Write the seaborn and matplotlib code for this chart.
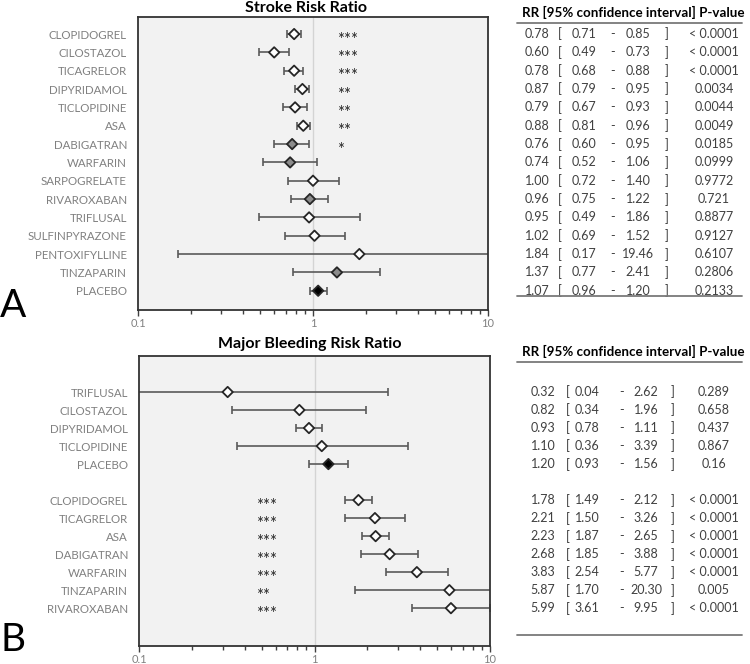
import numpy as np
import pandas as pd
import matplotlib
matplotlib.use("Agg")
import matplotlib.pyplot as plt
import seaborn as sns
from matplotlib.lines import Line2D
from matplotlib.ticker import FixedLocator, LogLocator, NullFormatter
from matplotlib.transforms import blended_transform_factory

# ---------------- data ----------------
drugs_a = ["CLOPIDOGREL", "CILOSTAZOL", "TICAGRELOR", "DIPYRIDAMOL", "TICLOPIDINE", "ASA",
           "DABIGATRAN", "WARFARIN", "SARPOGRELATE", "RIVAROXABAN", "TRIFLUSAL",
           "SULFINPYRAZONE", "PENTOXIFYLLINE", "TINZAPARIN", "PLACEBO"]
rr_a = [0.78, 0.60, 0.78, 0.87, 0.79, 0.88, 0.76, 0.74, 1.00, 0.96, 0.95, 1.02, 1.84, 1.37, 1.07]
lo_a = [0.71, 0.49, 0.68, 0.79, 0.67, 0.81, 0.60, 0.52, 0.72, 0.75, 0.49, 0.69, 0.17, 0.77, 0.96]
hi_a = [0.85, 0.73, 0.88, 0.95, 0.93, 0.96, 0.95, 1.06, 1.40, 1.22, 1.86, 1.52, 19.46, 2.41, 1.20]
p_a = ["< 0.0001", "< 0.0001", "< 0.0001", "0.0034", "0.0044", "0.0049", "0.0185", "0.0999",
       "0.9772", "0.721", "0.8877", "0.9127", "0.6107", "0.2806", "0.2133"]
sig_a = ["***", "***", "***", "**", "**", "**", "*", "", "", "", "", "", "", "", ""]
kind_a = ["antiplatelet"] * 6 + ["anticoagulant", "anticoagulant", "antiplatelet", "anticoagulant",
          "antiplatelet", "antiplatelet", "antiplatelet", "anticoagulant", "placebo"]

drugs_b = ["TRIFLUSAL", "CILOSTAZOL", "DIPYRIDAMOL", "TICLOPIDINE", "PLACEBO",
           "CLOPIDOGREL", "TICAGRELOR", "ASA", "DABIGATRAN", "WARFARIN", "TINZAPARIN", "RIVAROXABAN"]
rr_b = [0.32, 0.82, 0.93, 1.10, 1.20, 1.78, 2.21, 2.23, 2.68, 3.83, 5.87, 5.99]
lo_b = [0.04, 0.34, 0.78, 0.36, 0.93, 1.49, 1.50, 1.87, 1.85, 2.54, 1.70, 3.61]
hi_b = [2.62, 1.96, 1.11, 3.39, 1.56, 2.12, 3.26, 2.65, 3.88, 5.77, 20.30, 9.95]
p_b = ["0.289", "0.658", "0.437", "0.867", "0.16", "< 0.0001", "< 0.0001", "< 0.0001",
       "< 0.0001", "< 0.0001", "0.005", "< 0.0001"]
sig_b = ["", "", "", "", "", "***", "***", "***", "***", "***", "**", "***"]
kind_b = ["antiplatelet"] * 4 + ["placebo"] + ["antiplatelet"] * 7

xticks = [0.1, 1, 10]
xticklabels = ["0.1", "1", "10"]

# ---------------- style ----------------
sns.set_theme(style="white")
plt.rcParams["font.family"] = ["Lato", "DejaVu Sans"]

W, H = 750, 664
fig = plt.figure(figsize=(W / 100, H / 100), dpi=100)

fill_pal = {"antiplatelet": "white", "anticoagulant": "#8c8c8c", "placebo": "black"}
LABEL_C = "#808080"
TABLE_C = "#404040"


def fx(px):
    return px / W


def fy(py):
    return 1 - py / H


def panel(rect, drugs, rr, lo, hi, sig, kind, ypos, ylim, star_x, title, title_xy):
    ax = fig.add_axes(rect)
    ax.set_facecolor("#f2f2f2")
    ax.set_xscale("log")
    ax.set_xlim(0.1, 10)
    ax.set_ylim(*ylim)
    ax.axvline(1, color="#d4d4d4", lw=1, zorder=1)
    rr_ = np.array(rr)
    err = np.vstack([rr_ - np.array(lo), np.array(hi) - rr_])
    ax.errorbar(rr_, ypos, xerr=err, fmt="none", ecolor="#5a5a5a", elinewidth=1.2,
                capsize=2.6, capthick=1.2, zorder=2)
    df = pd.DataFrame({"rr": rr, "y": ypos, "kind": kind})
    sns.scatterplot(data=df, x="rr", y="y", hue="kind", palette=fill_pal, marker="D",
                    s=28, edgecolor="#262626", linewidth=1.3, legend=False, zorder=3, ax=ax)
    for s, y in zip(sig, ypos):
        if s:
            ax.text(star_x, y + 0.3, s, ha="left", va="center", fontsize=12,
                    color="#262626")
    ax.set_yticks(ypos)
    ax.set_yticklabels(drugs, color=LABEL_C, fontsize=8.3)
    ax.tick_params(axis="y", length=0, pad=8)
    ax.xaxis.set_major_locator(FixedLocator(xticks))
    ax.set_xticklabels(xticklabels)
    ax.xaxis.set_minor_locator(LogLocator(base=10, subs=np.arange(2, 10)))
    ax.xaxis.set_minor_formatter(NullFormatter())
    ax.tick_params(axis="x", which="major", length=4, width=1, color="#404040",
                   labelcolor=LABEL_C, labelsize=8, pad=2, direction="out", bottom=True)
    ax.tick_params(axis="x", which="minor", length=3, width=1, color="#404040",
                   direction="out", bottom=True)
    ax.set_xlabel("")
    ax.set_ylabel("")
    for sp in ax.spines.values():
        sp.set_color("#333333")
        sp.set_linewidth(1.3)
    fig.text(fx(title_xy[0]), fy(title_xy[1]), title, ha="center", va="center",
             fontsize=11.5, fontweight="bold", color="black")
    return ax


def table(ax, rr, lo, hi, p, ypos, cols, head_y, line_y, bot_y):
    tr = blended_transform_factory(fig.transFigure, ax.transData)
    for r, l, h, pv, y in zip(rr, lo, hi, p, ypos):
        vals = [f"{r:.2f}", "[", f"{l:.2f}", "-", f"{h:.2f}", "]", pv]
        for v, cx in zip(vals, cols):
            ax.text(fx(cx), y, v, transform=tr, ha="center", va="center",
                    fontsize=9, color=TABLE_C, clip_on=False)
    fig.text(fx(633), fy(head_y), "RR [95% confidence interval] P-value", ha="center",
             va="center", fontsize=9.6, fontweight="bold", color="black")
    for ly in (line_y, bot_y):
        fig.add_artist(Line2D([fx(517), fx(742)], [fy(ly), fy(ly)], color="#7a7a7a", lw=1.3,
                              transform=fig.transFigure))


# Panel A
ypos_a = list(range(len(drugs_a)))
axA = panel([fx(138), fy(310), fx(488) - fx(138), fy(17) - fy(310)], drugs_a, rr_a, lo_a, hi_a,
            sig_a, kind_a, ypos_a, (15.05, -0.93), 1.37, "Stroke Risk Ratio", (306, 8))
table(axA, rr_a, lo_a, hi_a, p_a, ypos_a, [537, 560, 584, 613, 638, 667, 714], 12, 23, 296)

# Panel B (blank row after placebo)
ypos_b = [i if i < 5 else i + 1 for i in range(len(drugs_b))]
axB = panel([fx(139), fy(646), fx(490) - fx(139), fy(356) - fy(646)], drugs_b, rr_b, lo_b, hi_b,
            sig_b, kind_b, ypos_b, (14.1, -2.0), 0.465, "Major Bleeding Risk Ratio", (310, 344))
table(axB, rr_b, lo_b, hi_b, p_b, ypos_b, [543, 568, 587, 622, 646, 673, 714], 351, 362, 635)

fig.text(fx(13), fy(306), "A", ha="center", va="center", fontsize=28, color="black")
fig.text(fx(13), fy(640), "B", ha="center", va="center", fontsize=28, color="black")

fig.savefig("out.png", dpi=100)
